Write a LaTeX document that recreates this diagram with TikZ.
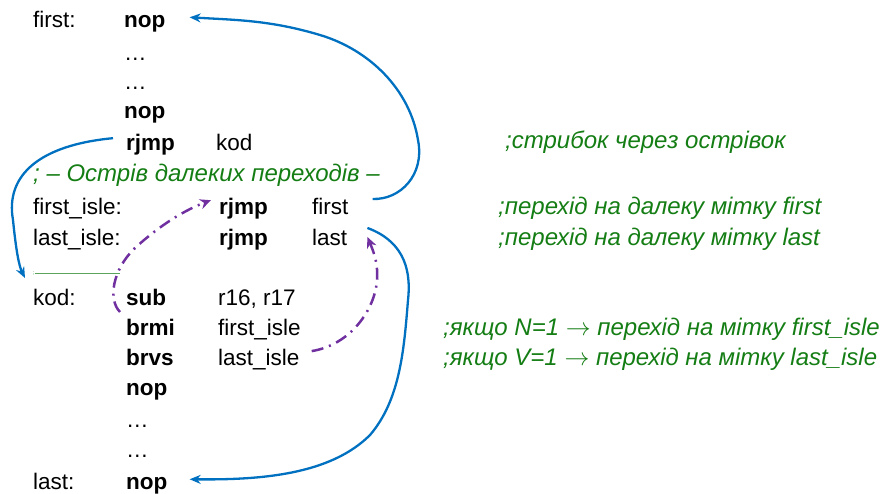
\documentclass[tikz,border=0pt]{standalone}
\usepackage{fontspec}
\setmainfont{Liberation Sans}
\usetikzlibrary{arrows.meta}
\definecolor{cblue}{RGB}{0,112,192}
\definecolor{cpurple}{RGB}{112,48,160}
\definecolor{cgreen}{RGB}{20,125,20}
\begin{document}
\begin{tikzpicture}[x=1pt,y=-1pt,
 txt/.style={anchor=base west,inner sep=0pt,font=\fontsize{22.5}{26}\selectfont},
 kw/.style={anchor=base west,inner sep=0pt,font=\fontsize{22.5}{26}\selectfont\bfseries},
 cmt/.style={anchor=base west,inner sep=0pt,text=cgreen,font=\fontsize{24}{27}\selectfont\itshape},
 bluearr/.style={draw=cblue,line width=2.3pt,-{Stealth[length=11pt,width=9pt]}},
 purarr/.style={draw=cpurple,line width=2.5pt,dash pattern=on 12pt off 6pt on 2pt off 6pt,-{Stealth[length=11pt,width=10pt]}}]
\useasboundingbox (0,0) rectangle (882,493);
% labels
\node[txt] (lfirst) at (33,27) {first:};
\node[kw] (nop1) at (124,27) {nop};
\node[txt] (dots1) at (124,60) {…};
\node[txt] (dots2) at (124,89) {…};
\node[kw] (nop2) at (124,118) {nop};
\node[kw] (rjk) at (126,150) {rjmp};
\node[txt] (kod1) at (216,150) {kod};
\node[cmt] (c1) at (505,148) {;стрибок через острівок};
\node[cmt] (isl) at (33,181) {; – Острів далеких переходів –};
\node[txt] (lfi) at (33,214) {first\_isle:};
\node[kw] (rjf) at (219,214) {rjmp};
\node[txt] (opf) at (312,214) {first};
\node[cmt] (c2) at (498,214) {;перехід на далеку мітку first};
\node[txt] (lli) at (33,245) {last\_isle:};
\node[kw] (rjl) at (219,245) {rjmp};
\node[txt] (opl) at (312,245) {last};
\node[cmt] (c3) at (498,245) {;перехід на далеку мітку last};
\node[anchor=west,inner sep=0pt,text=cgreen,font=\fontsize{5}{6}\selectfont] (semi) at (33,273) {;};
\coordinate (gend) at (120,273);
\draw[cgreen!70,line width=0.8pt] (semi.east) -- (gend);
\node[txt] (lkod) at (33,305) {kod:};
\node[kw] (sub) at (126,305) {sub};
\node[txt] (ops) at (218,305) {r16, r17};
\node[kw] (brmi) at (126,335) {brmi};
\node[txt] (opbm) at (218,335) {first\_isle};
\node[cmt] (c4) at (443,335) {;якщо N=1 $\rightarrow$ перехід на мітку first\_isle};
\node[kw] (brvs) at (126,365) {brvs};
\node[txt] (opbv) at (218,365) {last\_isle};
\node[cmt] (c5) at (443,365) {;якщо V=1 $\rightarrow$ перехід на мітку last\_isle};
\node[kw] (nop3) at (126,395) {nop};
\node[txt] (dots3) at (126,427) {…};
\node[txt] (dots4) at (126,457) {…};
\node[txt] (llast) at (33,489) {last:};
\node[kw] (nop4) at (126,489) {nop};
% blue arrows
\draw[bluearr] ([xshift=-13pt,yshift=6pt]rjk.west) .. controls (40,145) and (5,175) .. (13,220) .. controls (16,250) and (19,266) .. ([xshift=-8pt,yshift=-5pt]semi.west);
\draw[bluearr] ([xshift=24pt,yshift=7pt]opf.east) .. controls (400,200) and (425,175) .. (418,140) .. controls (410,90) and (370,50) .. (320,35) .. controls (270,20) and (235,20) .. ([xshift=24pt,yshift=6pt]nop1.east);
\draw[bluearr] ([xshift=20pt,yshift=9pt]opl.east) .. controls (400,240) and (412,265) .. (408,300) .. controls (404,350) and (400,400) .. (370,435) .. controls (330,475) and (260,480) .. ([xshift=22pt,yshift=6pt]nop4.east);
% purple arrows
\draw[purarr] ([xshift=-6pt,yshift=15pt]brmi.west) .. controls (108,300) and (112,270) .. (135,248) .. controls (160,225) and (185,210) .. ([xshift=-8pt,yshift=8pt]rjf.west);
\draw[purarr] ([xshift=12pt,yshift=8pt]opbv.east) .. controls (350,345) and (375,310) .. (377,280) .. controls (378,265) and (375,255) .. ([xshift=20pt,yshift=0pt]opl.east);
\end{tikzpicture}
\end{document}
